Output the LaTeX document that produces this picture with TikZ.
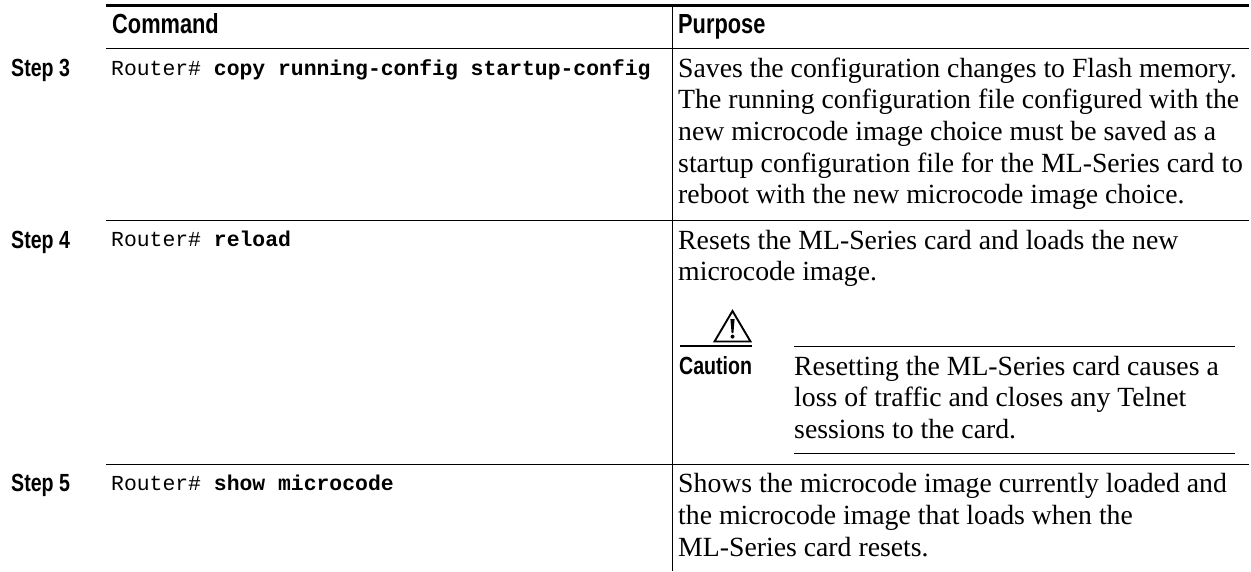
\documentclass[tikz,border=0pt]{standalone}
\usepackage{fontspec}
\setmainfont{Liberation Serif}
\setmonofont{Liberation Mono}
\newfontfamily\cond[FakeStretch=0.79]{Liberation Sans}
\begin{document}
\begin{tikzpicture}[x=1pt,y=-1pt,
  rulethin/.style={line width=1.1pt,black},
  headtxt/.style={anchor=base west,inner sep=0,font=\cond\bfseries\fontsize{27.6}{27.6}\selectfont},
  steptxt/.style={anchor=base west,inner sep=0,font=\cond\bfseries\fontsize{24.8}{24.8}\selectfont},
  cmdtxt/.style={anchor=base west,inner sep=0,font=\ttfamily\fontsize{21.4}{21.4}\selectfont},
  bodytxt/.style={anchor=base west,inner sep=0,font=\fontsize{27.75}{27.75}\selectfont}]
\useasboundingbox (0,0) rectangle (1251,571);
\fill[white] (0,0) rectangle (1251,571);
\coordinate (tl) at (106,5.7); \coordinate (tr) at (1249,5.7);
\coordinate (al) at (106,48.3); \coordinate (ar) at (1249,48.3);
\coordinate (bl) at (106,220.3); \coordinate (br) at (1249,220.3);
\coordinate (cl) at (106,464.3); \coordinate (cr) at (1249,464.3);
\coordinate (vt) at (672.7,5); \coordinate (vb) at (672.7,571);
\draw[line width=3.2pt] (tl) -- (tr);
\draw[rulethin] (al) -- (ar);
\draw[rulethin] (bl) -- (br);
\draw[rulethin] (cl) -- (cr);
\draw[rulethin] (vt) -- (vb);
\node[headtxt] (hc) at (112,33.3) {Command};
\node[headtxt] (hp) at (678,33.3) {Purpose};
\node[steptxt] (s3) at (11,76.7) {Step 3};
\node[cmdtxt] (c3) at (111,75) {Router\# \textbf{copy running-config startup-config}};
\node[bodytxt] (p31) at (678,77) {Saves the configuration changes to Flash memory.};
\node[bodytxt] (p32) at (678,108.7) {The running configuration file configured with the};
\node[bodytxt] (p33) at (678,140.4) {new microcode image choice must be saved as a};
\node[bodytxt] (p34) at (678,172.1) {startup configuration file for the ML-Series card to};
\node[bodytxt] (p35) at (678,203.8) {reboot with the new microcode image choice.};
\node[steptxt] (s4) at (11,248) {Step 4};
\node[cmdtxt] (c4) at (111,246) {Router\# \textbf{reload}};
\node[bodytxt] (p41) at (678,249) {Resets the ML-Series card and loads the new};
\node[bodytxt] (p42) at (678,280.7) {microcode image.};
\draw[line width=1.9pt,line join=miter] (714.5,341.5) -- (750.5,341.5) -- (732.5,311) -- cycle;
\fill (730.4,319) -- (734.6,319) -- (733.4,333) -- (731.6,333) -- cycle;
\fill (732.5,336.6) circle (2pt);
\draw[line width=2.2pt] (680,345.8) -- (752,345.8);
\draw[rulethin] (794,346.7) -- (1235,346.7);
\node[steptxt] (cau) at (679,374) {Caution};
\node[bodytxt] (w1) at (794,375) {Resetting the ML-Series card causes a};
\node[bodytxt] (w2) at (794,406.7) {loss of traffic and closes any Telnet};
\node[bodytxt] (w3) at (794,438.4) {sessions to the card.};
\draw[rulethin] (794,453.3) -- (1235,453.3);
\node[steptxt] (s5) at (11,491.7) {Step 5};
\node[cmdtxt] (c5) at (111,490) {Router\# \textbf{show microcode}};
\node[bodytxt] (p51) at (678,492.7) {Shows the microcode image currently loaded and};
\node[bodytxt] (p52) at (678,524.4) {the microcode image that loads when the};
\node[bodytxt] (p53) at (678,556.1) {ML-Series card resets.};
\end{tikzpicture}
\end{document}
